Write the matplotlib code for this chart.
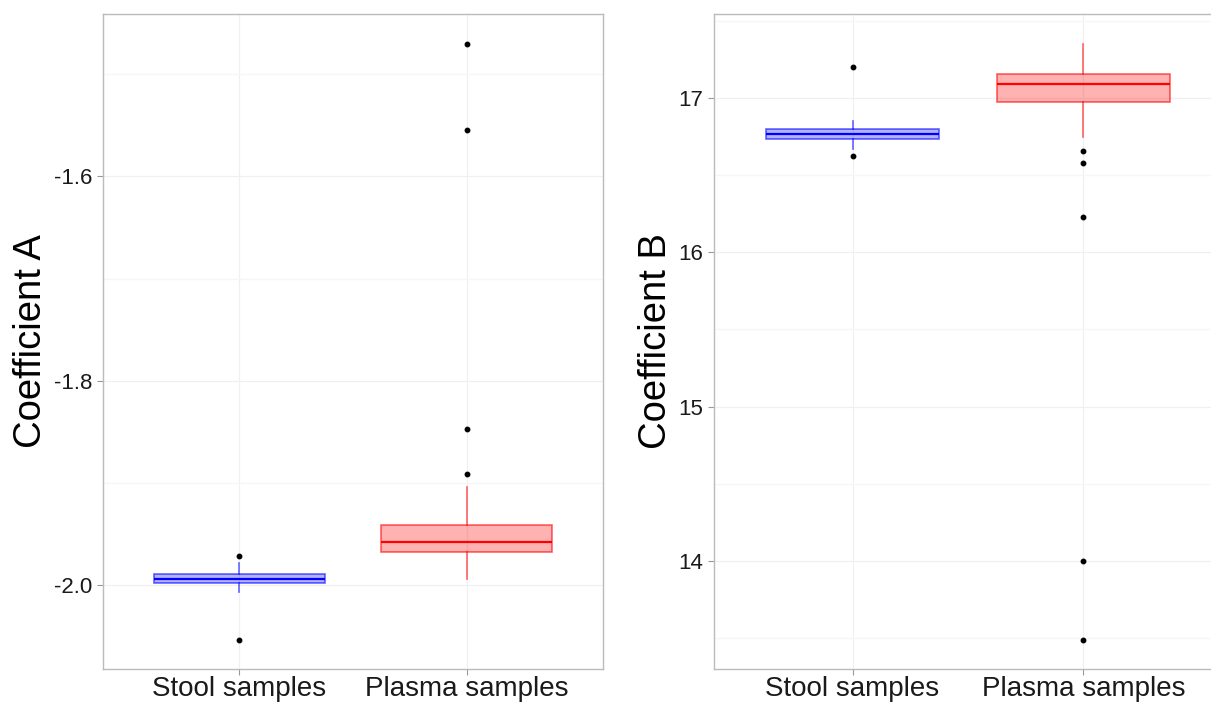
import matplotlib.pyplot as plt
from matplotlib.colors import to_rgb
from matplotlib.ticker import MultipleLocator

plt.rcParams['font.family'] = ['Liberation Sans', 'DejaVu Sans']

# Data:
groups = ['Stool samples', 'Plasma samples']

# Coefficient A (q1, median, q3, lower whisker, upper whisker, outliers)
a_q1 = [-1.9983, -1.9676]
a_med = [-1.9938, -1.9578]
a_q3 = [-1.9895, -1.9412]
a_whislo = [-2.0066, -1.9941]
a_whishi = [-1.9787, -1.9039]
a_fliers = [[-1.9719, -2.0542],
            [-1.4706, -1.5549, -1.8471, -1.8912]]

# Coefficient B
b_q1 = [16.736, 16.974]
b_med = [16.764, 17.091]
b_q3 = [16.799, 17.158]
b_whislo = [16.673, 16.749]
b_whishi = [16.851, 17.351]
b_fliers = [[17.203, 16.623],
            [16.656, 16.576, 16.227, 14.0, 13.487]]

colors = ['blue', 'red']

# Figure parameters:
fig = plt.figure(figsize=(12.11, 7.04), dpi=100)
ax_a = fig.add_axes([0.0851, 0.0497, 0.4129, 0.9304])
ax_b = fig.add_axes([0.5896, 0.0497, 0.4195, 0.9304])


def draw_boxes(ax, q1, med, q3, lo, hi, fliers):
    for i in range(len(groups)):
        stats = [dict(q1=q1[i], med=med[i], q3=q3[i], whislo=lo[i],
                      whishi=hi[i], fliers=fliers[i])]
        rgb = to_rgb(colors[i])
        ax.bxp(stats, positions=[i + 1], widths=0.75, patch_artist=True,
               showcaps=False,
               boxprops=dict(facecolor=(*rgb, 0.3), edgecolor=(*rgb, 0.6),
                             linewidth=1.2),
               medianprops=dict(color=colors[i], linewidth=1.6),
               whiskerprops=dict(color=(*rgb, 0.6), linewidth=1.2),
               flierprops=dict(marker='o', markerfacecolor='black',
                               markeredgecolor='black', markersize=3.2),
               zorder=3)
    ax.set_xlim(0.4, 2.6)
    ax.set_xticks([1, 2])
    ax.set_xticklabels(groups, fontsize=20)
    ax.tick_params(axis='y', labelsize=16, pad=4)
    ax.tick_params(axis='x', pad=1)
    ax.tick_params(length=4, width=0.8, color='#999999', labelcolor='#1a1a1a')
    ax.tick_params(which='minor', length=0)
    ax.grid(True, which='major', color='#F0F0F0', linewidth=0.9, zorder=0)
    ax.grid(True, which='minor', axis='y', color='#F6F6F6', linewidth=0.9,
            zorder=0)
    ax.set_axisbelow(True)
    for sp in ax.spines.values():
        sp.set_color('#BBBBBB')
        sp.set_linewidth(1.0)


# Left panel:
draw_boxes(ax_a, a_q1, a_med, a_q3, a_whislo, a_whishi, a_fliers)
ax_a.set_ylim(-2.0824, -1.441)
ax_a.yaxis.set_minor_locator(MultipleLocator(0.1))
ax_a.set_yticks([-2.0, -1.8, -1.6])
ax_a.set_yticklabels(['-2.0', '-1.8', '-1.6'])
ax_a.set_ylabel('Coefficient A', fontsize=27.5, labelpad=3)

# Right panel:
draw_boxes(ax_b, b_q1, b_med, b_q3, b_whislo, b_whishi, b_fliers)
ax_b.set_ylim(13.299, 17.545)
ax_b.yaxis.set_major_locator(MultipleLocator(1))
ax_b.yaxis.set_minor_locator(MultipleLocator(0.5))
ax_b.set_ylabel('Coefficient B', fontsize=27.5, labelpad=3)

fig.savefig('out.png', dpi=100)
